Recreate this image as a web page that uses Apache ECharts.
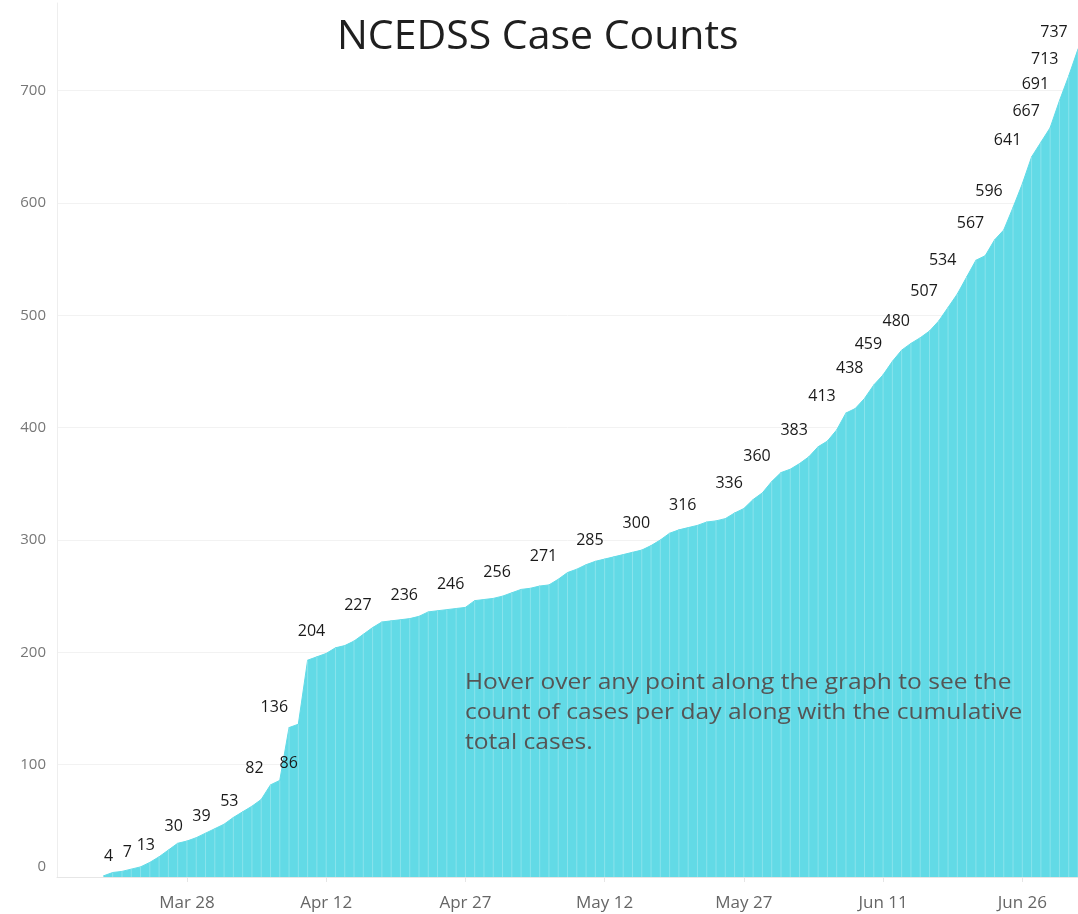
<!DOCTYPE html>
<html>
<head>
<meta charset="utf-8">
<title>NCEDSS Case Counts</title>
<script src="https://cdn.jsdelivr.net/npm/echarts@6/dist/echarts.min.js"></script>
<style>
    html, body {margin: 0; padding: 0; background: #fff;}
    #chart {width: 1078px; height: 914px;}
</style>
</head>
<body>
<div id="chart"></div>
<script>
// cumulative cases, one per day starting Mar 19
var first_day = 'Mar 19';
var cases = [
    1, 4, 5, 7, 9, 13, 18, 24, 30,
    32, 35, 39, 43, 47, 53, 58, 63, 69, 82,
    86, 133, 136, 193, 196, 199, 204, 206, 210, 216,
    222, 227, 228, 229, 230, 232, 236, 237, 238, 239,
    240, 246, 247, 248, 250, 253, 256, 257, 259, 260,
    265, 271, 274, 278, 281, 283, 285, 287, 289, 291,
    295, 300, 306, 309, 311, 313, 316, 317, 319, 324,
    328, 336, 342, 352, 360, 363, 368, 374, 383, 388,
    398, 413, 417, 426, 438, 447, 459, 469, 475, 480,
    486, 495, 507, 519, 534, 549, 553, 567, 576, 596,
    617, 641, 654, 667, 691, 713, 737
];
// values that carry a data label in the picture
var label_values = [4, 7, 13, 30, 39, 53, 82, 86, 136, 204, 227, 236, 246, 256, 271,
    285, 300, 316, 336, 360, 383, 413, 438, 459, 480, 507, 534, 567, 596, 641, 667, 691, 713, 737];
var tick_labels = ['Mar 28', 'Apr 12', 'Apr 27', 'May 12', 'May 27', 'Jun 11', 'Jun 26'];
var y_ticks = [0, 100, 200, 300, 400, 500, 600, 700];

var months = ['Jan', 'Feb', 'Mar', 'Apr', 'May', 'Jun', 'Jul', 'Aug', 'Sep', 'Oct', 'Nov', 'Dec'];

// axis runs from Mar 14 to the last day of data
function make_days(n) {
    var out = [];
    for (var i = 0; i < n; i++) {
        var d = new Date(Date.UTC(2020, 2, 14 + i));
        out.push(months[d.getUTCMonth()] + ' ' + d.getUTCDate());
    }
    return out;
}

var days = make_days(111);
var start = days.indexOf(first_day);

// label nudges, Power BI puts most of them up-left of the point
function label_dx(i) {
    if (i <= 17) return -4;
    if (i === 18) return -16;
    if (i === 19) return 9;
    return -24;
}

var line_data = [];
var seam_data = [];
for (var i = 0; i < cases.length; i++) {
    var item = {value: [days[start + i], cases[i]]};
    if (label_values.indexOf(cases[i]) > -1) {
        item.label = {show: true, offset: [label_dx(i), 0]};
    }
    line_data.push(item);
    seam_data.push([days[start + i], cases[i]]);
}

var area_color = '#62dae6';
var font = '"Open Sans", "Noto Sans", sans-serif';

var mychart = echarts.init(document.getElementById('chart'));
var option = {
    backgroundColor: '#fff',
    animation: false,
    title: {
        text: 'NCEDSS Case Counts',
        left: 332,
        top: 12,
        textStyle: {fontFamily: font, fontSize: 41, fontWeight: 'normal', color: '#1f1f1f'}
    },
    grid: {left: 57, right: -4, top: 3, bottom: 37},
    xAxis: {
        type: 'category',
        data: days,
        boundaryGap: false,
        axisLine: {lineStyle: {color: '#e6e6e6'}},
        axisTick: {
            show: true,
            length: 5,
            lineStyle: {color: '#e6e6e6'},
            interval: function (idx, val) { return tick_labels.indexOf(val) > -1; }
        },
        axisLabel: {
            interval: function (idx, val) { return tick_labels.indexOf(val) > -1; },
            fontFamily: font,
            fontSize: 17,
            color: '#666',
            margin: 18
        },
        splitLine: {show: false}
    },
    yAxis: {
        type: 'value',
        min: 0,
        max: 778,
        interval: 100,
        axisLine: {show: true, lineStyle: {color: '#eeeeee'}},
        axisTick: {show: false},
        axisLabel: {
            showMaxLabel: false,
            fontFamily: font,
            fontSize: 15,
            color: '#777',
            margin: 11,
            formatter: function (v) {
                if (y_ticks.indexOf(v) < 0) return '';
                return v === 0 ? '{z|0}' : String(v);
            },
            rich: {z: {fontFamily: font, fontSize: 15, color: '#777', padding: [0, 0, 20, 0]}}
        },
        splitLine: {showMaxLine: false, lineStyle: {color: '#f2f2f2'}}
    },
    graphic: [{
        type: 'text',
        left: 465,
        top: 668,
        z: 10,
        scaleX: 1.17,
        style: {
            text: 'Hover over any point along the graph to see the\ncount of cases per day along with the cumulative\ntotal cases.',
            fontFamily: font,
            fontSize: 21,
            lineHeight: 30,
            fill: '#555'
        }
    }],
    series: [{
        type: 'line',
        data: line_data,
        showSymbol: true,
        showAllSymbol: true,
        symbol: 'circle',
        symbolSize: 1,
        itemStyle: {color: area_color},
        lineStyle: {color: area_color, width: 1},
        areaStyle: {color: area_color, opacity: 1},
        label: {
            show: false,
            position: 'top',
            distance: 8,
            fontFamily: font,
            fontSize: 16,
            color: '#1a1a1a'
        },
        z: 2
    }, {
        // faint white seams between days
        type: 'bar',
        data: seam_data,
        barWidth: 1,
        silent: true,
        itemStyle: {color: 'rgba(255,255,255,0.25)'},
        z: 3
    }]
};

mychart.setOption(option);
</script>
</body>
</html>
